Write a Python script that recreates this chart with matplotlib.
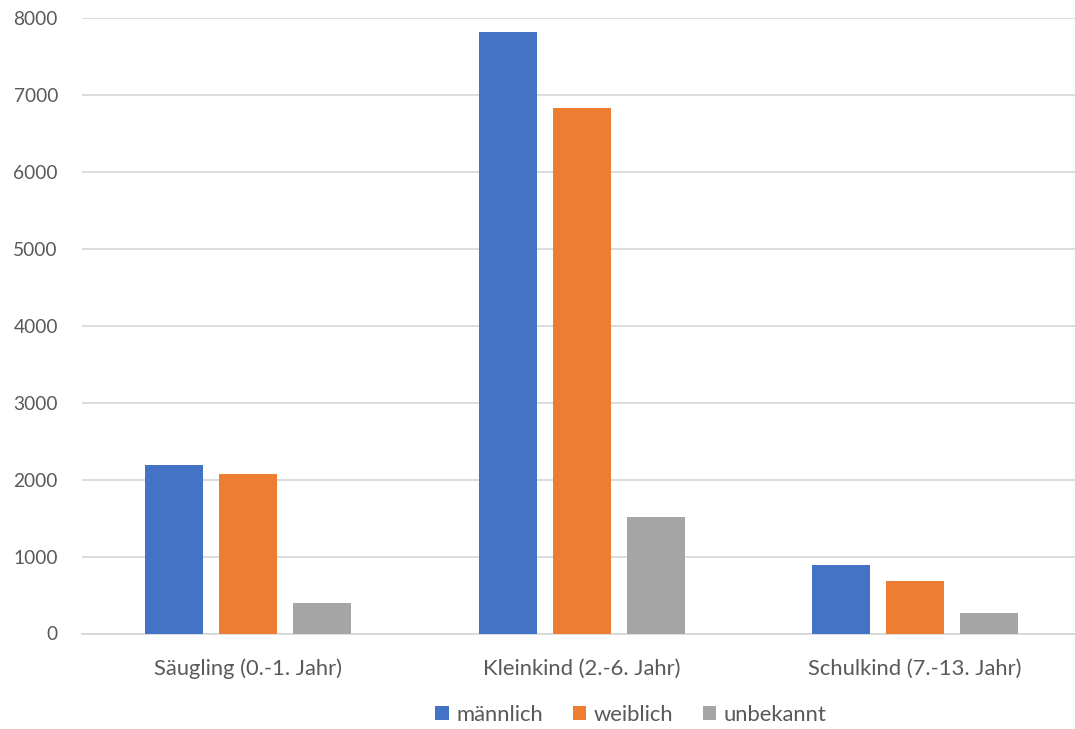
import matplotlib
matplotlib.use("Agg")
import matplotlib.pyplot as plt
import numpy as np

categories = ["Säugling (0.-1. Jahr)", "Kleinkind (2.-6. Jahr)", "Schulkind (7.-13. Jahr)"]
series_names = ["männlich", "weiblich", "unbekannt"]
maennlich = [2195, 7820, 897]
weiblich = [2068, 6840, 682]
unbekannt = [403, 1521, 270]
y_ticks = [0, 1000, 2000, 3000, 4000, 5000, 6000, 7000, 8000]

colors = ["#4472C4", "#ED7D31", "#A5A5A5"]
text_color = "#595959"
grid_color = "#D9D9D9"

plt.rcParams["font.family"] = ["Lato", "DejaVu Sans"]

fig = plt.figure(figsize=(10.75, 7.29), dpi=100)
ax = fig.add_axes([81.5 / 1075, 95.5 / 729, 1000 / 1075, 615.2 / 729])

x = np.arange(len(categories))
width = 0.174
offset = 0.222
for i, (vals, name) in enumerate(zip([maennlich, weiblich, unbekannt], series_names)):
    ax.bar(x + (i - 1) * offset, vals, width=width, color=colors[i], label=name, zorder=3)

ax.set_xlim(-0.5, 2.5)
ax.set_ylim(0, 8000)
ax.set_yticks(y_ticks)
ax.set_yticklabels([str(v) for v in y_ticks])
ax.set_xticks(x)
ax.set_xticklabels(categories)

ax.yaxis.grid(True, color=grid_color, linewidth=1.3, zorder=0)
ax.xaxis.grid(False)
for side in ["top", "right", "left"]:
    ax.spines[side].set_visible(False)
ax.spines["bottom"].set_color(grid_color)
ax.spines["bottom"].set_linewidth(1.3)
ax.spines["bottom"].set_zorder(0)

ax.tick_params(axis="y", length=0, pad=17, labelsize=13.8, labelcolor=text_color)
ax.tick_params(axis="x", length=0, pad=18, labelsize=15.8, labelcolor=text_color)

leg = fig.legend(loc="center", bbox_to_anchor=(631 / 1075, 1 - 715 / 729), ncol=3,
                 frameon=False, fontsize=15.8, handlelength=0.6, handleheight=0.6,
                 handletextpad=0.35, columnspacing=1.35, labelcolor=text_color)

fig.savefig("out.png", dpi=100)
